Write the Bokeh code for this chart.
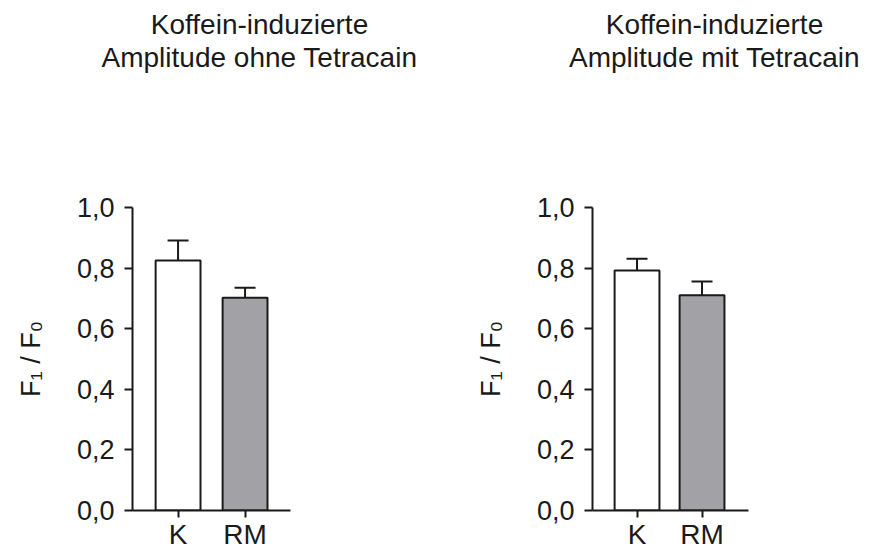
from bokeh.plotting import figure
from bokeh.layouts import row
from bokeh.models import (ColumnDataSource, Range1d, FixedTicker, CustomJSTickFormatter,
                          Whisker, TeeHead, Title)
from bokeh.embed import file_html
from bokeh.resources import INLINE

# ---- data ----
categories = ["K", "RM"]
ohne_mean = [0.825, 0.702]
ohne_err = [0.066, 0.033]
mit_mean = [0.792, 0.710]
mit_err = [0.039, 0.046]
bar_colors = ["#ffffff", "#a2a2a6"]
titles = [["Koffein-induzierte", "Amplitude ohne Tetracain"],
          ["Koffein-induzierte", "Amplitude mit Tetracain"]]
y_ticks = [0.0, 0.2, 0.4, 0.6, 0.8, 1.0]

FONT = "Liberation Sans"
TXT = "#1a1a1a"


def style_title(t, txt):
    t.text = txt
    t.align = "center"
    t.text_font = FONT
    t.text_font_size = "28px"
    t.text_font_style = "normal"
    t.text_color = TXT
    t.standoff = 0


def panel(means, errs, title_lines, border_left, frame_w, x0, px_per_unit, axis_px, bar_w):
    total_w = 438
    x_end = x0 + frame_w / px_per_unit
    p = figure(frame_width=frame_w, frame_height=303,
               min_border_left=border_left,
               min_border_right=total_w - border_left - frame_w,
               min_border_top=207, min_border_bottom=39,
               x_range=Range1d(x0, x_end), y_range=Range1d(0, 1.0),
               toolbar_location=None, output_backend="svg",
               background_fill_color="white", border_fill_color="white")
    p.outline_line_color = None
    p.grid.visible = False

    # outermost: first title line; then (from the frame outward) spacer, second line
    style_title(p.title, title_lines[0])
    p.add_layout(Title(text=" ", text_font_size="10px", standoff=122), "above")
    line2 = Title()
    style_title(line2, title_lines[1])
    p.add_layout(line2, "above")

    xs = [i + 1 for i in range(len(categories))]
    src = ColumnDataSource(dict(x=xs, top=means,
                                upper=[m + e for m, e in zip(means, errs)],
                                color=bar_colors))
    p.vbar(x="x", top="top", bottom=0, width=bar_w, source=src,
           fill_color="color", line_color="#1a1a1a", line_width=2)

    w = Whisker(base="x", lower="top", upper="upper", source=src,
                dimension="height", line_color="#1a1a1a", line_width=2,
                lower_head=None,
                upper_head=TeeHead(size=21, line_color="#1a1a1a", line_width=2))
    p.add_layout(w)

    # x axis
    xa = p.xaxis[0]
    xa.bounds = (x0, x0 + axis_px / px_per_unit)
    xa.ticker = FixedTicker(ticks=xs)
    xa.major_label_overrides = {x: c for x, c in zip(xs, categories)}
    xa.minor_tick_line_color = None
    xa.major_tick_in = 0
    xa.major_tick_out = 7
    xa.major_label_standoff = 1
    xa.axis_line_width = 2
    xa.major_tick_line_width = 2
    xa.axis_line_color = "#1a1a1a"
    xa.major_tick_line_color = "#1a1a1a"
    xa.major_label_text_font = FONT
    xa.major_label_text_font_size = "28px"
    xa.major_label_text_color = TXT

    # y axis
    ya = p.yaxis[0]
    ya.ticker = FixedTicker(ticks=y_ticks)
    ya.formatter = CustomJSTickFormatter(code="return tick.toFixed(1).replace('.', ',');")
    ya.minor_tick_line_color = None
    ya.major_tick_in = 0
    ya.major_tick_out = 8
    ya.major_label_standoff = 10
    ya.axis_line_width = 2
    ya.major_tick_line_width = 2
    ya.axis_line_color = "#1a1a1a"
    ya.major_tick_line_color = "#1a1a1a"
    ya.major_label_text_font = FONT
    ya.major_label_text_font_size = "27px"
    ya.major_label_text_color = TXT
    ya.axis_label = "F\u2081 / F\u2080"
    ya.axis_label_text_font = FONT
    ya.axis_label_text_font_size = "27px"
    ya.axis_label_text_font_style = "normal"
    ya.axis_label_text_color = TXT
    ya.axis_label_standoff = 28
    return p


p1 = panel(ohne_mean, ohne_err, titles[0], 132, 254, 0.32, 67, 158, 0.67)
p2 = panel(mit_mean, mit_err, titles[1], 154, 244, 0.315, 65, 156, 0.69)
layout = row(p1, p2)

open("out.html", "w").write(file_html(layout, INLINE))
